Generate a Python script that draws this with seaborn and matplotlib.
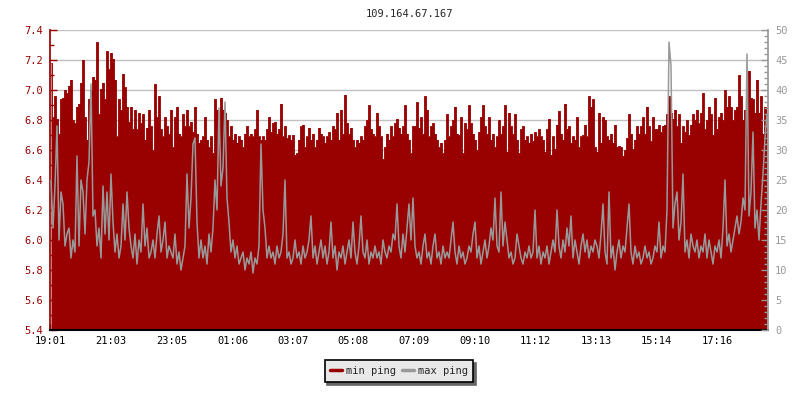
import numpy as np
import matplotlib.pyplot as plt
import seaborn as sns
from matplotlib.lines import Line2D
from matplotlib.ticker import MultipleLocator

# chart text
title = '109.164.67.167'
series_names = ['min ping', 'max ping']
time_labels = ['19:01', '21:03', '23:05', '01:06', '03:07', '05:08',
               '07:09', '09:10', '11:12', '13:13', '15:14', '17:16']
start_label = '19:01'
sample_minutes = 4

# min ping (left axis), one value every 4 minutes
min_ping = [
    7.18, 6.82, 6.96, 6.81, 6.71, 6.94, 6.95, 7.00, 6.98, 7.03,
    7.07, 6.80, 6.78, 6.89, 6.91, 7.05, 7.20, 6.82, 6.67, 6.94,
    7.00, 7.09, 7.07, 7.32, 6.84, 7.01, 7.05, 6.94, 7.26, 7.14,
    7.25, 7.21, 7.07, 6.69, 6.94, 6.87, 7.11, 7.02, 6.89, 6.79,
    6.89, 6.74, 6.87, 6.74, 6.85, 6.78, 6.84, 6.67, 6.75, 6.87,
    6.76, 6.60, 7.04, 6.82, 6.96, 6.74, 6.69, 6.82, 6.76, 6.71,
    6.87, 6.62, 6.82, 6.89, 6.71, 6.69, 6.84, 6.76, 6.87, 6.76,
    6.79, 6.72, 6.89, 6.71, 6.65, 6.67, 6.69, 6.82, 6.67, 6.62,
    6.69, 6.58, 6.94, 6.87, 6.78, 6.95, 6.87, 6.85, 6.80, 6.69,
    6.76, 6.67, 6.71, 6.65, 6.69, 6.67, 6.62, 6.71, 6.76, 6.69,
    6.71, 6.69, 6.74, 6.87, 6.69, 6.67, 6.69, 6.67, 6.74,
    6.82, 6.72, 6.78, 6.79, 6.71, 6.74, 6.91, 6.69, 6.76, 6.68,
    6.70, 6.67, 6.70, 6.57, 6.58, 6.67, 6.76, 6.77, 6.62, 6.69,
    6.75, 6.67, 6.71, 6.62, 6.67, 6.75, 6.71, 6.69, 6.65, 6.69,
    6.72, 6.67, 6.76, 6.74, 6.85, 6.67, 6.87, 6.71, 6.97, 6.78,
    6.71, 6.75, 6.67, 6.62, 6.67, 6.65, 6.69, 6.67, 6.76, 6.80,
    6.90, 6.74, 6.71, 6.69, 6.85, 6.76, 6.69, 6.54, 6.62, 6.71,
    6.67, 6.76, 6.69, 6.78, 6.81, 6.75, 6.71, 6.76, 6.90, 6.71,
    6.67, 6.58, 6.76, 6.76, 6.92, 6.75, 6.82, 6.71, 6.96, 6.87,
    6.69, 6.76, 6.78, 6.71, 6.67, 6.62, 6.65, 6.58, 6.67, 6.84,
    6.69, 6.76, 6.80, 6.89, 6.71, 6.70, 6.82, 6.58, 6.78, 6.74,
    6.90, 6.78, 6.71, 6.67, 6.60, 6.72, 6.82, 6.90, 6.76, 6.71,
    6.82, 6.67, 6.71, 6.62, 6.69, 6.80, 6.71, 6.76, 6.90, 6.59,
    6.85, 6.76, 6.71, 6.84, 6.67, 6.58, 6.74, 6.76, 6.67, 6.69,
    6.65, 6.71, 6.66, 6.72, 6.69, 6.74, 6.69, 6.67, 6.59, 6.74,
    6.81, 6.57, 6.69, 6.61, 6.77, 6.86, 6.71, 6.67, 6.91, 6.74,
    6.76, 6.65, 6.69, 6.67, 6.82, 6.62, 6.69, 6.70, 6.77, 6.69,
    6.96, 6.89, 6.94, 6.62, 6.59, 6.85, 6.65, 6.82, 6.80, 6.69,
    6.67, 6.71, 6.65, 6.77, 6.62, 6.63, 6.62, 6.56, 6.60, 6.68,
    6.84, 6.71, 6.61, 6.67, 6.76, 6.71, 6.76, 6.82, 6.71, 6.89,
    6.76, 6.66, 6.82, 6.74, 6.74, 6.77, 6.72, 6.76, 6.77, 6.84,
    6.96, 6.85, 6.81, 6.87, 6.76, 6.84, 6.65, 6.76, 6.72, 6.80,
    6.70, 6.77, 6.84, 6.80, 6.87, 6.78, 6.85, 6.98, 6.74, 6.80,
    6.89, 6.84, 6.70, 6.95, 6.74, 6.82, 6.85, 6.80, 7.00, 6.89,
    6.96, 6.89, 6.80, 6.87, 6.89, 7.10, 6.96, 6.80, 6.87, 6.96,
    7.13, 6.95, 6.94, 6.85, 7.07, 6.85, 6.96, 6.71, 6.89, 6.85,
]

# max ping (right axis), same timestamps
max_ping = [
    25, 17, 24, 34, 15, 23, 21, 14, 16, 17,
    12, 15, 13, 29, 14, 25, 23, 16, 25, 28,
    41, 19, 20, 14, 17, 12, 24, 16, 23, 15,
    26, 18, 13, 16, 12, 14, 21, 15, 23, 17,
    14, 12, 16, 11, 15, 13, 21, 14, 17, 12,
    13, 15, 12, 16, 19, 13, 15, 18, 12, 14,
    13, 12, 16, 11, 13, 10, 12, 14, 26, 17,
    22, 31, 32, 18, 12, 15, 12, 14, 11, 16,
    13, 17, 25, 20, 37, 24, 27, 38, 22, 18,
    13, 15, 12, 14, 11, 12, 13, 10, 12, 11,
    13, 9.5, 12, 11, 14, 31, 20, 17, 12, 14,
    12, 13, 11, 14, 12, 13, 16, 25, 12, 13,
    11, 12, 15, 12, 13, 11, 14, 12, 13, 15,
    19, 12, 14, 11, 13, 15, 12, 14, 11, 13,
    18, 12, 14, 10, 13, 12, 14, 11, 13, 15,
    12, 18, 13, 11, 14, 19, 13, 12, 15, 11,
    13, 12, 14, 12, 13, 11, 15, 13, 12, 14,
    13, 16, 15, 21, 14, 12, 16, 13, 17, 21,
    15, 22, 14, 12, 13, 11, 14, 16, 12, 13,
    11, 14, 16, 12, 13, 11, 14, 12, 13, 12,
    15, 18, 13, 11, 14, 12, 13, 11, 12, 14,
    13, 16, 18, 12, 14, 11, 13, 15, 12, 14,
    17, 15, 22, 14, 13, 23, 14, 18, 15, 12,
    13, 11, 12, 16, 14, 12, 11, 13, 12, 14,
    12, 13, 20, 12, 14, 11, 13, 12, 14, 11,
    13, 15, 13, 20, 14, 12, 15, 13, 17, 14,
    19, 12, 15, 13, 11, 14, 16, 13, 15, 12,
    14, 13, 15, 14, 12, 16, 21, 13, 11, 23,
    12, 14, 10, 13, 15, 12, 14, 13, 17, 21,
    13, 11, 14, 12, 13, 11, 12, 14, 12, 13,
    11, 12, 14, 13, 18, 12, 14, 13, 20, 48,
    44, 17, 21, 23, 15, 18, 26, 13, 15, 12,
    16, 14, 13, 15, 12, 14, 13, 16, 12, 15,
    13, 11, 14, 13, 15, 12, 17, 25, 14, 16,
    13, 15, 17, 19, 16, 18, 22, 20, 46, 19,
    23, 33, 17, 20, 15, 21, 26, 32, 36,
]

red = '#990000'
grey = '#999999'

sns.set_theme(style='white')
plt.rcParams['font.family'] = ['DejaVu Sans Mono']
plt.rcParams['font.size'] = 7.5


def minutes_since_start(label):
    h, m = map(int, label.split(':'))
    h0, m0 = map(int, start_label.split(':'))
    return ((h * 60 + m) - (h0 * 60 + m0)) % 1440


t = np.arange(len(min_ping)) * sample_minutes + sample_minutes / 2
span = len(min_ping) * sample_minutes

fig = plt.figure(figsize=(8, 4), dpi=100)
ax = fig.add_axes([50 / 800, 70 / 400, 718 / 800, 300 / 400])
ax2 = ax.twinx()

# min ping as filled area
ax.fill_between(t, 5.4, min_ping, step='mid', color=red, lw=0, zorder=2)
sns.lineplot(x=t, y=min_ping, ax=ax, color=red, lw=0.6, drawstyle='steps-mid', zorder=3)

# max ping line on the right axis
sns.lineplot(x=t, y=max_ping, ax=ax2, color=grey, lw=1.1, zorder=4)

ax.set_xlim(0, span)
ax.set_ylim(5.4, 7.4)
ax2.set_ylim(0, 50)

ax.set_xticks([minutes_since_start(s) for s in time_labels])
ax.set_xticklabels(time_labels)
ax.yaxis.set_major_locator(MultipleLocator(0.2))
ax.yaxis.set_minor_locator(MultipleLocator(0.1))
ax.yaxis.set_major_formatter(plt.FuncFormatter(lambda v, p: f'{v:.1f}'))
ax2.yaxis.set_major_locator(MultipleLocator(5))
ax2.yaxis.set_minor_locator(MultipleLocator(1))

ax.set_axisbelow(True)
ax.grid(axis='y', which='major', color='#c0c0c0', lw=1)
ax.grid(axis='x', visible=False)
ax2.grid(False)

ax.tick_params(axis='x', direction='in', length=4, width=1, colors='black',
               labelsize=7.5, pad=4, bottom=True)
ax.tick_params(axis='y', which='major', direction='in', length=5, width=1,
               colors=red, labelsize=7.5, pad=5, left=True)
ax.tick_params(axis='y', which='minor', direction='in', length=3, width=1,
               colors=red, left=True)
ax2.tick_params(axis='y', which='major', direction='in', length=5, width=1,
                colors=grey, labelsize=7.5, pad=5, right=True)
ax2.tick_params(axis='y', which='minor', direction='in', length=3, width=1,
                colors=grey, right=True)

for a in (ax, ax2):
    a.spines['top'].set_visible(False)
    a.set_xlabel('')
    a.set_ylabel('')
ax.spines['left'].set_color(red)
ax.spines['right'].set_visible(False)
ax.spines['bottom'].set_color('black')
ax.spines['bottom'].set_linewidth(1.5)
ax2.spines['left'].set_visible(False)
ax2.spines['bottom'].set_visible(False)
ax2.spines['right'].set_color(grey)

fig.text(409 / 800, 1 - 14 / 400, title, ha='center', va='center', fontsize=7.5)

handles = [Line2D([], [], color=red, lw=2.5), Line2D([], [], color=grey, lw=2.5)]
leg = fig.legend(handles, series_names, loc='center', bbox_to_anchor=(399 / 800, 1 - 371 / 400),
                 ncol=2, fontsize=7.5, frameon=True, fancybox=False,
                 shadow={'color': '#666666', 'alpha': 1.0},
                 handlelength=1.1, handletextpad=0.4, columnspacing=0.6, borderpad=0.55)
leg.get_frame().set_facecolor('#e8e8e8')
leg.get_frame().set_edgecolor('black')
leg.get_frame().set_linewidth(1.2)
leg.get_frame().set_alpha(1.0)

fig.savefig('out.png', dpi=100)
